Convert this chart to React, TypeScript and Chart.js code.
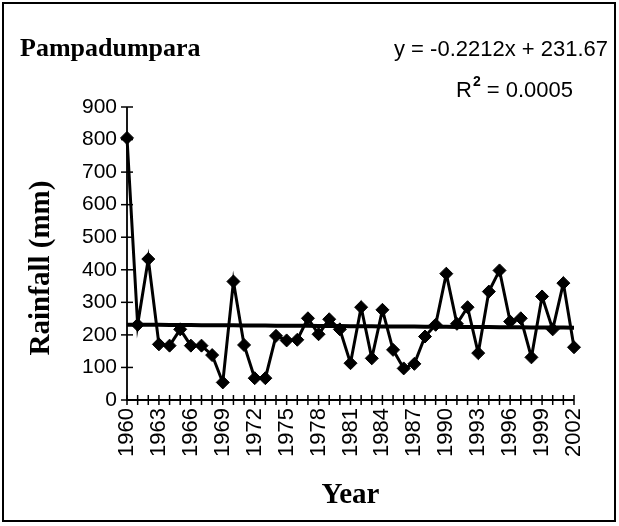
import React, { useEffect, useRef } from 'react';
import { Chart, registerables } from 'chart.js';

Chart.register(...registerables);

const years = [
  '1960', '1961', '1962', '1963', '1964', '1965', '1966', '1967', '1968', '1969',
  '1970', '1971', '1972', '1973', '1974', '1975', '1976', '1977', '1978', '1979',
  '1980', '1981', '1982', '1983', '1984', '1985', '1986', '1987', '1988', '1989',
  '1990', '1991', '1992', '1993', '1994', '1995', '1996', '1997', '1998', '1999',
  '2000', '2001', '2002',
];

const rainfall = [
  805, 231, 433, 171, 167, 217, 167, 167, 138, 54,
  364, 169, 67, 67, 197, 183, 185, 251, 202, 248,
  217, 113, 285, 128, 277, 154, 97, 111, 195, 231,
  388, 234, 285, 144, 333, 398, 241, 251, 131, 318,
  217, 359, 162,
];

const trendSlope = -0.2212;
const trendIntercept = 231.67;
const yMin = 0;
const yMax = 900;
const yStep = 100;
const labelEvery = 3;

const chartTitle = 'Pampadumpara';
const equationText = 'y = -0.2212x + 231.67';
const r2Label = 'R';
const r2Sup = '2';
const r2Value = ' = 0.0005';
const xAxisTitle = 'Year';
const yAxisTitle = 'Rainfall (mm)';

const SERIF = '"Liberation Serif", "Times New Roman", serif';
const SANS = '"Liberation Sans", Arial, sans-serif';

const decorPlugin = {
  id: 'decor',
  beforeDraw(chart: any) {
    const { ctx, width, height } = chart;
    ctx.save();
    ctx.fillStyle = '#fff';
    ctx.fillRect(0, 0, width, height);
    ctx.restore();
  },
  beforeDatasetsDraw(chart: any) {
    const { ctx, chartArea, scales } = chart;
    const xs = scales.x;
    const ys = scales.y;
    ctx.save();
    ctx.strokeStyle = '#000';
    ctx.lineWidth = 1.8;
    ctx.beginPath();
    ctx.moveTo(chartArea.left, chartArea.top);
    ctx.lineTo(chartArea.left, chartArea.bottom);
    ctx.lineTo(chartArea.right, chartArea.bottom);
    ctx.stroke();
    ctx.lineWidth = 1.5;
    ys.ticks.forEach((_t: any, i: number) => {
      const py = ys.getPixelForTick(i);
      ctx.beginPath();
      ctx.moveTo(chartArea.left - 6, py);
      ctx.lineTo(chartArea.left + 6, py);
      ctx.stroke();
    });
    xs.ticks.forEach((_t: any, i: number) => {
      const px = xs.getPixelForTick(i);
      ctx.beginPath();
      ctx.moveTo(px, chartArea.bottom - 5);
      ctx.lineTo(px, chartArea.bottom + 5);
      ctx.stroke();
    });
    ctx.restore();
  },
  afterDraw(chart: any) {
    const { ctx, chartArea } = chart;
    ctx.save();
    // frame
    ctx.strokeStyle = '#000';
    ctx.lineWidth = 2;
    ctx.strokeRect(3, 3, 612, 518);

    ctx.fillStyle = '#000';
    ctx.textBaseline = 'alphabetic';
    // title
    ctx.font = `bold 26px ${SERIF}`;
    ctx.textAlign = 'left';
    ctx.fillText(chartTitle, 20, 56);

    // equation
    ctx.font = `22px ${SANS}`;
    ctx.fillText(equationText, 394, 56);

    // R squared
    ctx.font = `22px ${SANS}`;
    const rx = 456;
    ctx.fillText(r2Label, rx, 97);
    const rw = ctx.measureText(r2Label).width;
    ctx.font = `bold 14px ${SANS}`;
    ctx.fillText(r2Sup, rx + rw + 1, 86);
    const sw = ctx.measureText(r2Sup).width;
    ctx.font = `22px ${SANS}`;
    ctx.fillText(r2Value, rx + rw + sw + 1, 97);

    // x axis title
    ctx.font = `bold 29px ${SERIF}`;
    ctx.textAlign = 'center';
    ctx.fillText(xAxisTitle, (chartArea.left + chartArea.right) / 2, 503);

    // y axis title
    ctx.translate(49, 268);
    ctx.rotate(-Math.PI / 2);
    ctx.textAlign = 'center';
    ctx.fillText(yAxisTitle, 0, 0);
    ctx.restore();
  },
};

export default function App() {
  const canvasRef = useRef<HTMLCanvasElement | null>(null);

  useEffect(() => {
    const canvas = canvasRef.current;
    if (!canvas) return;
    const trend = years.map((_y, i) => trendIntercept + trendSlope * (i + 1));
    const chart = new Chart(canvas, {
      type: 'line',
      data: {
        labels: years,
        datasets: [
          {
            label: 'Rainfall',
            data: rainfall,
            borderColor: '#000',
            backgroundColor: '#000',
            borderWidth: 3,
            pointStyle: 'rectRot',
            pointRadius: 6.5,
            pointBorderWidth: 1,
            pointBackgroundColor: '#000',
            pointBorderColor: '#000',
            tension: 0,
            order: 1,
          },
          {
            label: 'Trend',
            data: trend,
            borderColor: '#000',
            borderWidth: 4,
            pointRadius: 0,
            tension: 0,
            order: 0,
          },
        ],
      },
      options: {
        animation: false,
        responsive: false,
        devicePixelRatio: 1,
        events: [],
        layout: { padding: { top: 107, right: 45, left: 0, bottom: 0 } },
        plugins: {
          legend: { display: false },
          tooltip: { enabled: false },
          title: { display: false },
        },
        scales: {
          x: {
            type: 'category',
            offset: false,
            grid: { display: false, drawTicks: false },
            border: { display: false },
            afterFit: (s: any) => { s.height = 126; },
            ticks: {
              autoSkip: false,
              maxRotation: 90,
              minRotation: 90,
              padding: 8,
              color: '#000',
              font: { family: SANS, size: 22 },
              callback: (_v: any, i: number) => (i % labelEvery === 0 ? years[i] : ''),
            },
          },
          y: {
            min: yMin,
            max: yMax,
            grid: { display: false, drawTicks: false },
            border: { display: false },
            afterFit: (s: any) => { s.width = 127; },
            ticks: {
              stepSize: yStep,
              padding: 10,
              color: '#000',
              font: { family: SANS, size: 21 },
            },
          },
        },
      },
      plugins: [decorPlugin],
    });
    return () => chart.destroy();
  }, []);

  return (
    <div style={{ position: 'fixed', left: 0, top: 0, width: 619, height: 526, background: '#fff' }}>
      <canvas ref={canvasRef} width={619} height={526} style={{ display: 'block', width: 619, height: 526 }} />
    </div>
  );
}
